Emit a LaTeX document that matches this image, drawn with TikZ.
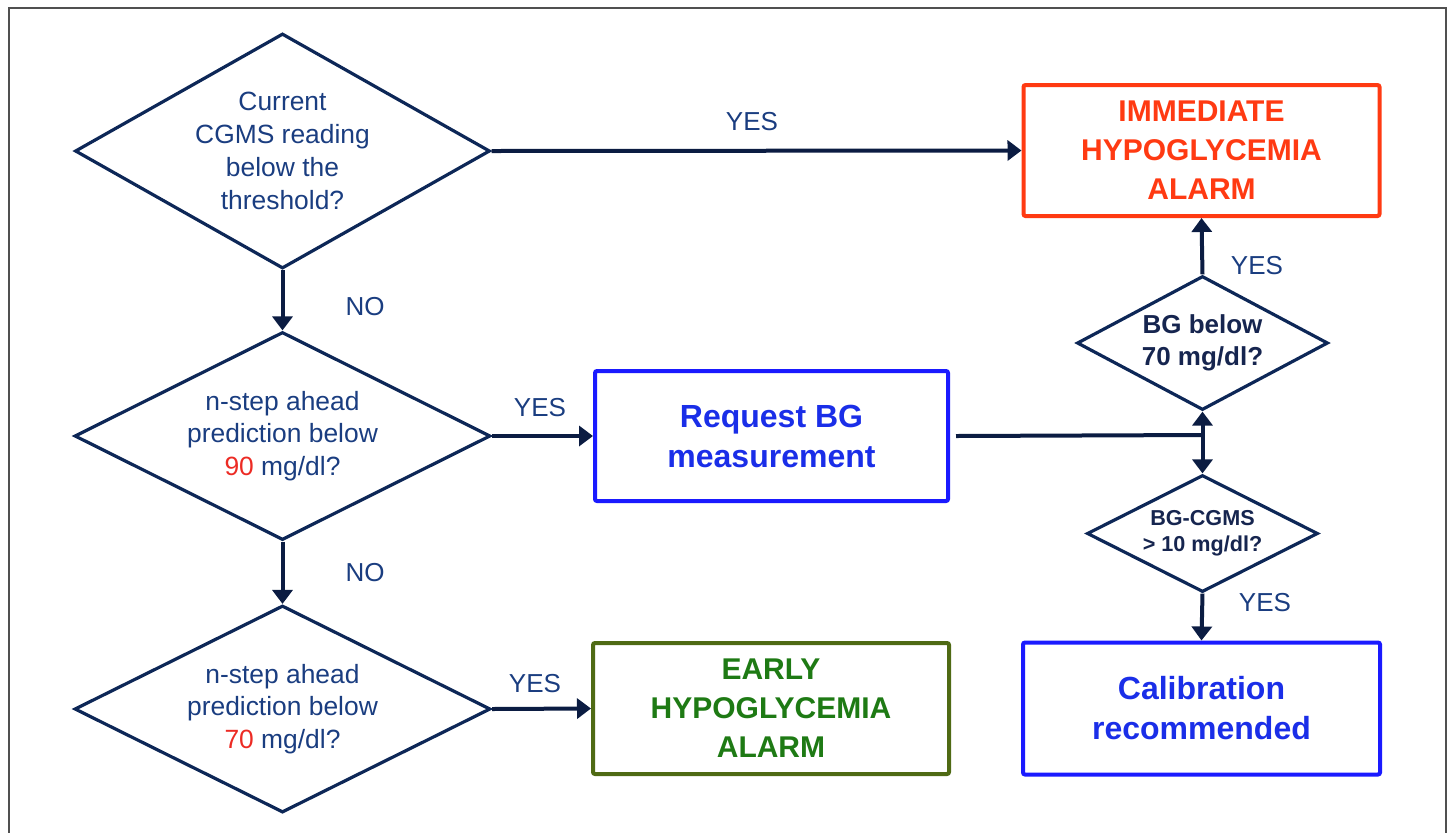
\documentclass[tikz,border=0pt]{standalone}
\usepackage{fontspec}
\setmainfont{Liberation Sans}
\usetikzlibrary{shapes.geometric,arrows.meta}
\definecolor{navy}{HTML}{0D2757}
\definecolor{connnavy}{HTML}{0B1C42}
\definecolor{txtblue}{HTML}{1A3D80}
\definecolor{dtxt}{HTML}{16254F}
\definecolor{alarmred}{HTML}{FF3A12}
\definecolor{boxblue}{HTML}{1A1AFF}
\definecolor{reqblue}{HTML}{1A2EE8}
\definecolor{olivebox}{HTML}{4F6A14}
\definecolor{alarmgreen}{HTML}{1E7A14}
\definecolor{numred}{HTML}{EC2B24}
\definecolor{framegray}{HTML}{505050}
\begin{document}
\begin{tikzpicture}[x=0.5pt,y=-0.5pt,
  dec/.style={draw=navy,line width=1.6pt,diamond,inner sep=0pt},
  dtext/.style={text=txtblue,align=center,font=\fontsize{13.2}{16.4}\selectfont},
  rtext/.style={text=dtxt,align=center},
  actbox/.style={rectangle,line width=2pt,rounded corners=1pt,align=center,minimum width=178pt,minimum height=65.5pt},
  conn/.style={draw=connnavy,line width=2pt,-{Triangle[length=7pt,width=10pt]}},
  plain/.style={draw=connnavy,line width=2pt},
  lab/.style={text=txtblue,font=\fontsize{13}{15}\selectfont}
]
\useasboundingbox (0,0) rectangle (1448,832);
\draw[framegray,line width=1pt] (9,860) -- (9,8) -- (1446,8) -- (1446,860);

% left decisions
\node[dec,minimum width=207.5pt,minimum height=117.5pt] (d1) at (282.5,151) {};
\node[dtext] (d1t) at (d1.center) {Current\\CGMS reading\\below the\\threshold?};
\node[dec,minimum width=208pt,minimum height=104pt] (d2) at (282.5,436) {};
\node[dtext] (d2t) at (d2.center) {n-step ahead\\prediction below\\\textcolor{numred}{90} mg/dl?};
\node[dec,minimum width=208pt,minimum height=103.5pt] (d3) at (282.5,709) {};
\node[dtext] (d3t) at (d3.center) {n-step ahead\\prediction below\\\textcolor{numred}{70} mg/dl?};

% right decisions
\node[dec,minimum width=125.5pt,minimum height=67pt] (r1) at (1202.5,343) {};
\node[rtext,font=\bfseries\fontsize{13}{16}\selectfont] (r1t) at (r1.center) {BG below\\70 mg/dl?};
\node[dec,minimum width=115.5pt,minimum height=58.5pt] (r2) at (1202.5,533.5) {};
\node[rtext,font=\bfseries\fontsize{10.8}{13}\selectfont] (r2t) at (r2.center) {BG-CGMS\\> 10 mg/dl?};

% boxes
\node[actbox,draw=alarmred,text=alarmred,font=\bfseries\fontsize{15}{19.5}\selectfont] (imm) at (1201.5,150.5) {IMMEDIATE\\HYPOGLYCEMIA\\ALARM};
\node[actbox,draw=boxblue,text=reqblue,font=\bfseries\fontsize{16}{20}\selectfont,minimum width=176.5pt,minimum height=65pt] (req) at (771.5,436) {Request BG\\measurement};
\node[actbox,draw=olivebox,text=alarmgreen,font=\bfseries\fontsize{15}{19.5}\selectfont] (early) at (771,708.5) {EARLY\\HYPOGLYCEMIA\\ALARM};
\node[actbox,draw=boxblue,text=reqblue,font=\bfseries\fontsize{16}{20}\selectfont,minimum width=178.5pt,minimum height=66pt] (cal) at (1201.5,708.5) {Calibration\\recommended};

\coordinate (j) at (1202.5,435);

% connectors
\draw[conn] (d1.east) -- (imm.west);
\draw[conn] (d1.south) -- (d2.north);
\draw[conn] (d2.east) -- (req.west);
\draw[conn] (d2.south) -- (d3.north);
\draw[conn] (d3.east) -- (early.west);
\draw[plain] ([xshift=3pt]req.east) -- (j);
\draw[conn] (j) -- (r1.south);
\draw[conn] (j) -- (r2.north);
\draw[conn] (r1.north) -- (imm.south);
\draw[conn] (r2.south) -- (cal.north);

% labels
\node[lab] (l1) at (752,122) {YES};
\node[lab] (l2) at (365,307) {NO};
\node[lab] (l3) at (540,408) {YES};
\node[lab] (l4) at (365,573) {NO};
\node[lab] (l5) at (535,684) {YES};
\node[lab] (l6) at (1257,266) {YES};
\node[lab] (l7) at (1265,603) {YES};
\end{tikzpicture}
\end{document}
